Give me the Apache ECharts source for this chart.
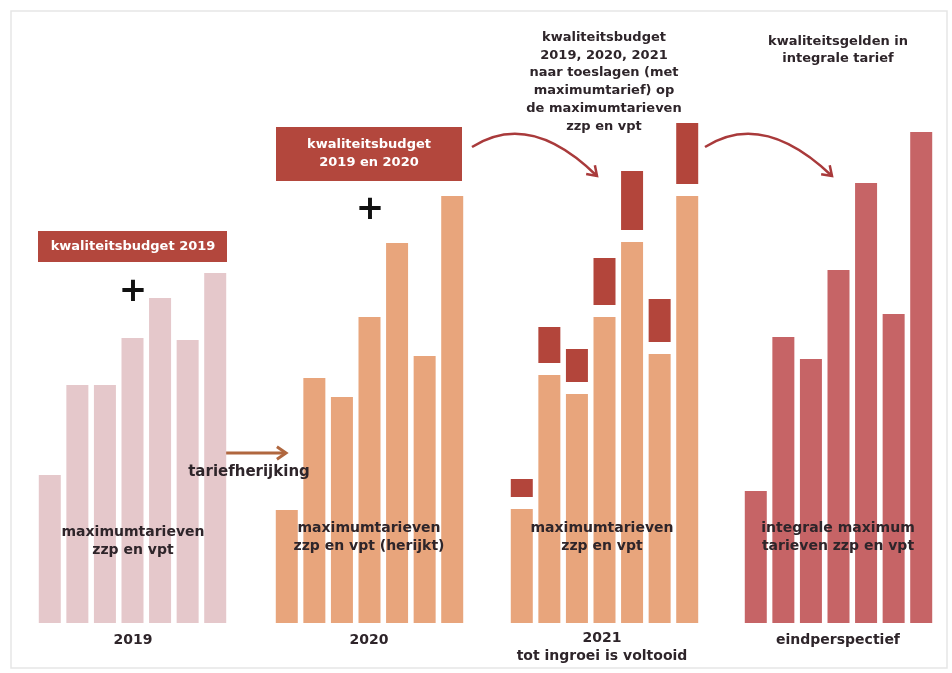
<!DOCTYPE html>
<html>
<head>
<meta charset="utf-8">
<script src="https://cdn.jsdelivr.net/npm/echarts@6.0.0/dist/echarts.min.js"></script>
<style>
  html, body { margin: 0; padding: 0; background: #ffffff; }
  #chart { width: 952px; height: 673px; }
</style>
</head>
<body>
<div id="chart"></div>
<script>
// zeven zorgzwaarte-pakketten per paneel (relatieve hoogte)
var pakketten = ['1', '2', '3', '4', '5', '6', '7']
var tarief2019 = [148, 238, 238, 285, 325, 283, 350]
var tarief2020 = [113, 245, 226, 306, 380, 267, 427]
var basis2021 = [114, 248, 229, 306, 381, 269, 427]
var toeslag2021 = [18, 36, 33, 47, 59, 43, 65]
var integraal = [132, 286, 264, 353, 440, 309, 491]

var GAP = 12
var FONT = 'bold 13px "DejaVu Sans", Verdana, sans-serif'
var FONT_L = 'bold 14px "DejaVu Sans", Verdana, sans-serif'
var TEXT = '#2e252a'

var chart = echarts.init(document.getElementById('chart'))

var lefts = [36, 273, 508, 742]
var grids = lefts.map(function (l) {
  return { left: l, width: 193, top: 123, bottom: 50 }
})
var xAxes = lefts.map(function (l, i) {
  return { type: 'category', gridIndex: i, data: pakketten, show: false }
})
var yAxes = lefts.map(function (l, i) {
  return { type: 'value', gridIndex: i, min: 0, max: 500, show: false }
})

function bar(name, idx, data, color, stack) {
  return {
    name: name,
    type: 'bar',
    xAxisIndex: idx,
    yAxisIndex: idx,
    data: data,
    stack: stack,
    barWidth: 22,
    silent: true,
    itemStyle: { color: color }
  }
}

function label(x, y, txt, opts) {
  opts = opts || {}
  return {
    type: 'text',
    x: x,
    y: y,
    z: 10,
    style: {
      text: txt,
      fill: opts.fill || TEXT,
      font: opts.font || FONT,
      align: 'center',
      verticalAlign: 'middle',
      lineHeight: opts.lineHeight || 18
    }
  }
}

// gebogen pijl (kwadratische curve met pijlpunt)
function arrow(x1, y1, cx, cy, x2, y2, color, width) {
  var dx = x2 - cx, dy = y2 - cy
  var len = Math.sqrt(dx * dx + dy * dy)
  var ux = dx / len, uy = dy / len
  var a = 0.6, s = 11
  var w1 = [x2 - s * (ux * Math.cos(a) - uy * Math.sin(a)), y2 - s * (uy * Math.cos(a) + ux * Math.sin(a))]
  var w2 = [x2 - s * (ux * Math.cos(a) + uy * Math.sin(a)), y2 - s * (uy * Math.cos(a) - ux * Math.sin(a))]
  return [
    {
      type: 'bezierCurve',
      shape: { x1: x1, y1: y1, cpx1: cx, cpy1: cy, x2: x2, y2: y2 },
      style: { stroke: color, lineWidth: width, fill: null }
    },
    {
      type: 'polyline',
      shape: { points: [w1, [x2, y2], w2] },
      style: { stroke: color, lineWidth: width, fill: null }
    }
  ]
}

var graphics = [
  {
    type: 'rect',
    shape: { x: 11, y: 11, width: 936, height: 657 },
    style: { stroke: '#e6e6e6', lineWidth: 1.5, fill: null }
  },
  // 2019
  { type: 'rect', shape: { x: 38, y: 231, width: 189, height: 31 }, style: { fill: '#b3473d' } },
  label(133, 247, 'kwaliteitsbudget 2019', { fill: '#ffffff' }),
  label(133, 292, '+', { font: 'bold 34px "DejaVu Sans", sans-serif', fill: '#111111' }),
  label(133, 541, 'maximumtarieven\nzzp en vpt', { font: FONT_L }),
  label(133, 640, '2019', { font: FONT_L }),
  label(249, 472, 'tariefherijking', { font: 'bold 15px "DejaVu Sans", Verdana, sans-serif' }),
  // 2020
  { type: 'rect', shape: { x: 276, y: 127, width: 186, height: 54 }, style: { fill: '#b3473d' } },
  label(369, 154, 'kwaliteitsbudget\n2019 en 2020', { fill: '#ffffff' }),
  label(370, 210, '+', { font: 'bold 34px "DejaVu Sans", sans-serif', fill: '#111111' }),
  label(369, 537, 'maximumtarieven\nzzp en vpt (herijkt)', { font: FONT_L }),
  label(369, 640, '2020', { font: FONT_L }),
  // 2021
  label(604, 82, 'kwaliteitsbudget\n2019, 2020, 2021\nnaar toeslagen (met\nmaximumtarief) op\nde maximumtarieven\nzzp en vpt', { lineHeight: 17.8 }),
  label(602, 537, 'maximumtarieven\nzzp en vpt', { font: FONT_L }),
  label(602, 647, '2021\ntot ingroei is voltooid', { font: FONT_L, lineHeight: 18 }),
  // eindperspectief
  label(838, 50, 'kwaliteitsgelden in\nintegrale tarief', { lineHeight: 17 }),
  label(838, 537, 'integrale maximum\ntarieven zzp en vpt', { font: FONT_L }),
  label(838, 640, 'eindperspectief', { font: FONT_L })
]
graphics = graphics
  .concat(arrow(213, 453, 250, 453, 286, 453, '#b0673f', 3))
  .concat(arrow(472, 147, 530, 110, 597, 176, '#a93a3b', 2.5))
  .concat(arrow(705, 147, 763, 110, 832, 176, '#a93a3b', 2.5))

chart.setOption({
  animation: false,
  grid: grids,
  xAxis: xAxes,
  yAxis: yAxes,
  graphic: graphics,
  series: [
    bar('2019', 0, tarief2019, '#e5c8cb'),
    bar('2020', 1, tarief2020, '#e8a57c'),
    bar('2021 basis', 2, basis2021, '#e8a57c', 'p3'),
    bar('tussenruimte', 2, basis2021.map(function () { return GAP }), 'rgba(0,0,0,0)', 'p3'),
    bar('2021 toeslag', 2, toeslag2021, '#b3453b', 'p3'),
    bar('eindperspectief', 3, integraal, '#c66466')
  ]
})
</script>
</body>
</html>
